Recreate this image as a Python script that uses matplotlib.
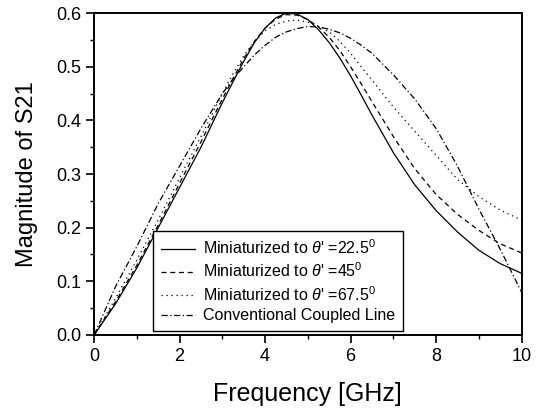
import matplotlib.pyplot as plt
from matplotlib.ticker import MultipleLocator

plt.rcParams['font.family'] = ['Liberation Sans', 'DejaVu Sans']
plt.rcParams['mathtext.fontset'] = 'custom'
plt.rcParams['mathtext.rm'] = 'Liberation Sans'
plt.rcParams['mathtext.it'] = 'Liberation Sans:italic'

# frequency points (GHz), denser around the peak
freq = [0, 0.5, 1, 1.5, 2, 2.5,
        3, 3.25, 3.5, 3.75, 4, 4.25, 4.5, 4.75, 5, 5.25, 5.5, 5.75, 6, 6.25, 6.5,
        7, 7.5, 8, 8.5, 9, 9.5, 10]

# |S21|
s21_225 = [0, 0.058, 0.125, 0.200, 0.275, 0.350,
           0.433, 0.472, 0.510, 0.545, 0.572, 0.591, 0.600, 0.598, 0.588, 0.569,
           0.545, 0.516, 0.483, 0.447, 0.410,
           0.340, 0.280, 0.232, 0.192, 0.158, 0.133, 0.115]
s21_45 = [0, 0.062, 0.130, 0.205, 0.283, 0.360,
          0.440, 0.478, 0.515, 0.547, 0.572, 0.589, 0.597, 0.596, 0.588, 0.574,
          0.555, 0.530, 0.500, 0.468, 0.435,
          0.370, 0.310, 0.262, 0.225, 0.195, 0.170, 0.153]
s21_675 = [0, 0.068, 0.140, 0.215, 0.293, 0.370,
           0.450, 0.487, 0.520, 0.547, 0.567, 0.579, 0.585, 0.587, 0.583, 0.576,
           0.565, 0.547, 0.525, 0.500, 0.475,
           0.425, 0.380, 0.335, 0.290, 0.258, 0.233, 0.214]
s21_conv = [0, 0.090, 0.165, 0.245, 0.315, 0.385,
            0.450, 0.477, 0.500, 0.522, 0.540, 0.555, 0.565, 0.571, 0.575, 0.574,
            0.570, 0.563, 0.553, 0.540, 0.525,
            0.485, 0.440, 0.385, 0.315, 0.235, 0.160, 0.080]

labels = [r"Miniaturized to $\theta$' =22.5$^0$",
          r"Miniaturized to $\theta$' =45$^0$",
          r"Miniaturized to $\theta$' =67.5$^0$",
          "Conventional Coupled Line"]

fig = plt.figure(figsize=(5.41, 4.08), dpi=100)
ax = fig.add_axes([0.174, 0.179, 0.790, 0.789])

ax.plot(freq, s21_225, color='black', lw=0.9, ls='-', label=labels[0])
ax.plot(freq, s21_45, color='black', lw=0.9, ls=(0, (4, 3)), label=labels[1])
ax.plot(freq, s21_675, color='black', lw=0.9, ls=(0, (1, 3)), label=labels[2])
ax.plot(freq, s21_conv, color='black', lw=0.9, ls=(0, (5, 2, 1, 2)), label=labels[3])

ax.set_xlim(0, 10)
ax.set_ylim(0, 0.6)
ax.xaxis.set_major_locator(MultipleLocator(2))
ax.xaxis.set_minor_locator(MultipleLocator(1))
ax.yaxis.set_major_locator(MultipleLocator(0.1))
ax.yaxis.set_minor_locator(MultipleLocator(0.05))
ax.set_yticklabels(['%.1f' % v for v in ax.get_yticks()])
ax.tick_params(which='major', direction='out', length=6, width=1.2, labelsize=13)
ax.tick_params(which='minor', direction='out', length=3, width=1)
for s in ax.spines.values():
    s.set_linewidth(1.4)

ax.set_xlabel('Frequency [GHz]', fontsize=18, labelpad=12)
ax.set_ylabel('Magnitude of S21', fontsize=17, labelpad=13)

leg = ax.legend(loc='lower left', bbox_to_anchor=(0.138, 0.012), fontsize=11.5,
                frameon=True, fancybox=False, edgecolor='black', framealpha=1,
                handlelength=2.1, handletextpad=0.5, labelspacing=0.28,
                borderpad=0.5, borderaxespad=0)
leg.get_frame().set_linewidth(1.0)

fig.savefig('out.png', dpi=100)
